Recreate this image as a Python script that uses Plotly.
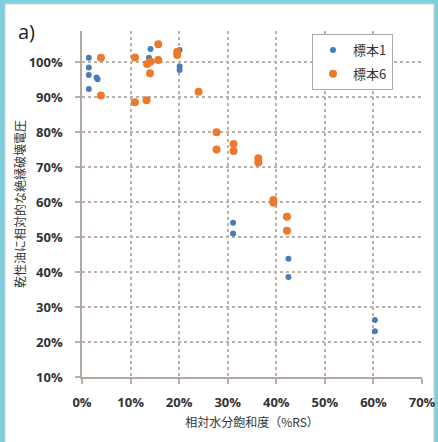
import plotly.graph_objects as go

# ---- data ----
x_tick_vals = [0, 10, 20, 30, 40, 50, 60, 70]
x_tick_text = ["0%", "10%", "20%", "30%", "40%", "50%", "60%", "70%"]
y_tick_vals = [10, 20, 30, 40, 50, 60, 70, 80, 90, 100]
y_tick_text = ["10%", "20%", "30%", "40%", "50%", "60%", "70%", "80%", "90%", "100%"]

s1_name = "標本1"
s1_x = [1.4, 1.4, 1.4, 1.4, 3.0, 3.2, 14.1, 13.8, 20.1, 20.1, 20.1, 31.1, 31.1, 42.5, 42.5, 60.3, 60.3]
s1_y = [101.2, 98.4, 96.3, 92.3, 95.6, 95.1, 103.7, 101.2, 103.4, 98.7, 97.7, 54.1, 51.0, 43.8, 38.6, 26.3, 23.1]

s6_name = "標本6"
s6_x = [3.9, 3.9, 10.9, 10.9, 13.3, 13.4, 14.1, 14.0, 15.7, 15.7, 19.6, 19.6, 24.0,
        27.7, 27.7, 31.2, 31.2, 36.3, 36.3, 39.4, 39.4, 42.2, 42.2]
s6_y = [101.2, 90.4, 101.3, 88.5, 89.1, 99.4, 100.1, 96.8, 105.1, 100.6, 102.9, 102.0, 91.5,
        79.9, 75.0, 76.6, 74.6, 72.5, 71.3, 60.6, 59.8, 55.8, 51.8]

x_title = "相対水分飽和度（%RS）"
y_title = "乾性油に相対的な絶縁破壊電圧"
panel_label = "a)"

BLUE = "#4a7cb8"
ORANGE = "#ec7a2e"
GRID = "#bcb0a8"
CJK = "Noto Sans CJK JP"

fig = go.Figure()
fig.add_trace(go.Scatter(x=s1_x, y=s1_y, mode="markers", name=s1_name, legendgroup="a",
                         marker=dict(color=BLUE, size=6)))
fig.add_trace(go.Scatter(x=s6_x, y=s6_y, mode="markers", name=s6_name, legendgroup="b",
                         marker=dict(color=ORANGE, size=8)))

W, H = 438, 442
L, R, T, B = 82, 16, 31, 65
pw, ph = W - L - R, H - T - B

def px(xp):
    return (xp - L) / pw

def py(yp):
    return (H - B - yp) / ph

axis_common = dict(
    showgrid=True, gridcolor=GRID, gridwidth=1.5, griddash="dot",
    showline=True, linecolor="#b3a9a2", linewidth=1.5,
    ticks="outside", ticklen=5, tickcolor=GRID, tickwidth=1.5,
    zeroline=False, automargin=False,
    tickfont=dict(family="Open Sans", size=13, color="#333333", weight="bold"),
)

fig.update_layout(
    width=W, height=H,
    margin=dict(l=L, r=R, t=T, b=B),
    paper_bgcolor="#80cfe0",
    plot_bgcolor="white",
    showlegend=True,
    legend=dict(
        x=px(312), y=py(34), xanchor="left", yanchor="top",
        bgcolor="white", bordercolor="#a9a9a9", borderwidth=1,
        font=dict(family=CJK, size=13, color="#333333"),
        tracegroupgap=4, itemwidth=30, entrywidth=76,
    ),
    xaxis=dict(range=[0, 70], tickvals=x_tick_vals, ticktext=x_tick_text,
               ticklabelstandoff=8,
               title=dict(text=x_title, font=dict(family=CJK, size=12, color="#333333"), standoff=8),
               **axis_common),
    yaxis=dict(range=[10, 10 + ph / 3.5], tickvals=y_tick_vals, ticktext=y_tick_text,
               ticklabelstandoff=10,
               title=dict(text=y_title, font=dict(family=CJK, size=12, color="#333333"), standoff=0),
               **axis_common),
    shapes=[
        dict(type="rect", xref="paper", yref="paper", layer="below",
             x0=px(5), x1=px(434), y0=py(450), y1=py(4),
             fillcolor="white", line=dict(color="#cfcfcf", width=1)),
    ],
    annotations=[
        dict(text=panel_label, xref="paper", yref="paper", x=px(16), y=py(31),
             xanchor="left", yanchor="middle", showarrow=False,
             font=dict(family="Open Sans", size=20, color="#222222")),
    ],
)

fig.write_html("out.html", config={"displayModeBar": False},
               post_script="document.body.style.margin='0';document.body.style.overflow='hidden';")
